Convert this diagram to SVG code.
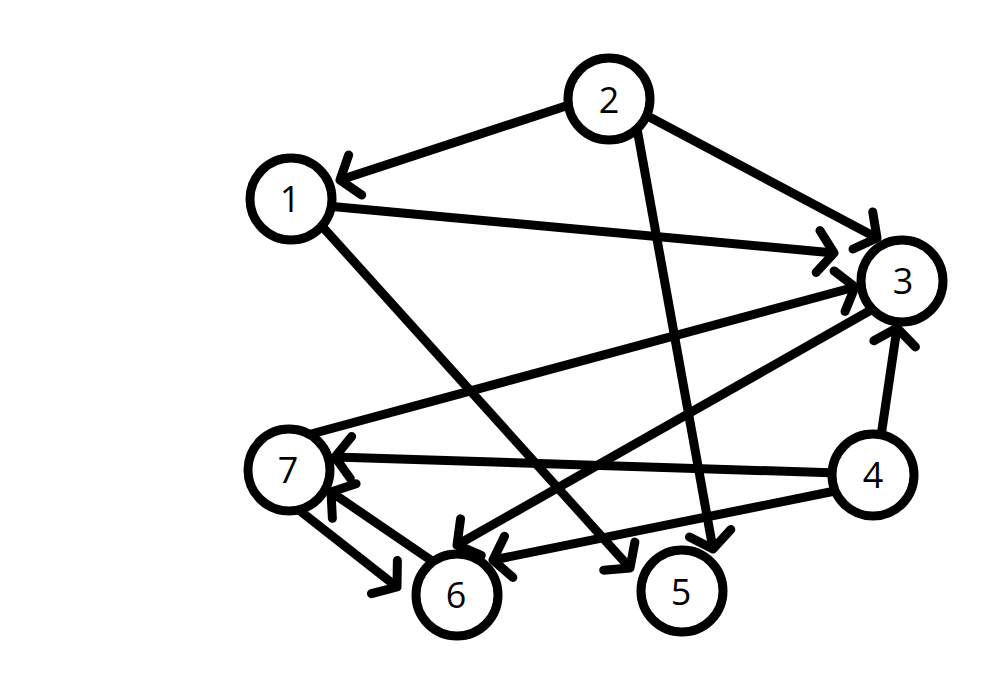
<svg xmlns="http://www.w3.org/2000/svg" width="985" height="688" viewBox="0 0 985 688">
<style>
.edge{fill:none;stroke:#000;stroke-width:9;marker-end:url(#ah)}
.node circle{fill:#fff;stroke:#000;stroke-width:9}
.node text{font-family:"Open Sans","Noto Sans",sans-serif;font-size:36px;fill:#000;text-anchor:middle}
</style>
<defs>
<marker id="ah" markerUnits="userSpaceOnUse" orient="auto" markerWidth="60" markerHeight="60" viewBox="-40 -30 60 60" refX="0" refY="0" overflow="visible">
<path d="M-16,-21 L0,0 L-16,21" fill="none" stroke="#000" stroke-width="9" stroke-linecap="round" stroke-linejoin="round"/>
</marker>
</defs>
<rect width="985" height="688" fill="#fff"/>
<g id="edges">
<line class="edge" x1="575" y1="103" x2="340" y2="180"/>
<line class="edge" x1="640" y1="112" x2="877" y2="238"/>
<line class="edge" x1="636" y1="123" x2="713" y2="549"/>
<line class="edge" x1="327" y1="206" x2="834" y2="253"/>
<line class="edge" x1="320" y1="224" x2="630" y2="568"/>
<line class="edge" x1="300" y1="437" x2="855" y2="287"/>
<line class="edge" x1="880" y1="443" x2="897" y2="328"/>
<line class="edge" x1="878" y1="306" x2="457" y2="545"/>
<line class="edge" x1="840" y1="490" x2="493" y2="560"/>
<line class="edge" x1="838" y1="473" x2="335" y2="457"/>
<line class="edge" x1="435" y1="563" x2="331" y2="492"/>
<line class="edge" x1="290" y1="503" x2="397" y2="587"/>
</g>
<g id="node1" class="node"><circle cx="291" cy="199" r="41"/><text x="290" y="212">1</text></g>
<g id="node2" class="node"><circle cx="609" cy="99" r="41"/><text x="609" y="113">2</text></g>
<g id="node3" class="node"><circle cx="902" cy="281" r="41"/><text x="903" y="294">3</text></g>
<g id="node4" class="node"><circle cx="873" cy="475" r="41"/><text x="873" y="488">4</text></g>
<g id="node5" class="node"><circle cx="682" cy="591" r="41"/><text x="681" y="605">5</text></g>
<g id="node6" class="node"><circle cx="457" cy="595" r="41"/><text x="456" y="608">6</text></g>
<g id="node7" class="node"><circle cx="289" cy="470" r="41"/><text x="288" y="483">7</text></g>
</svg>
